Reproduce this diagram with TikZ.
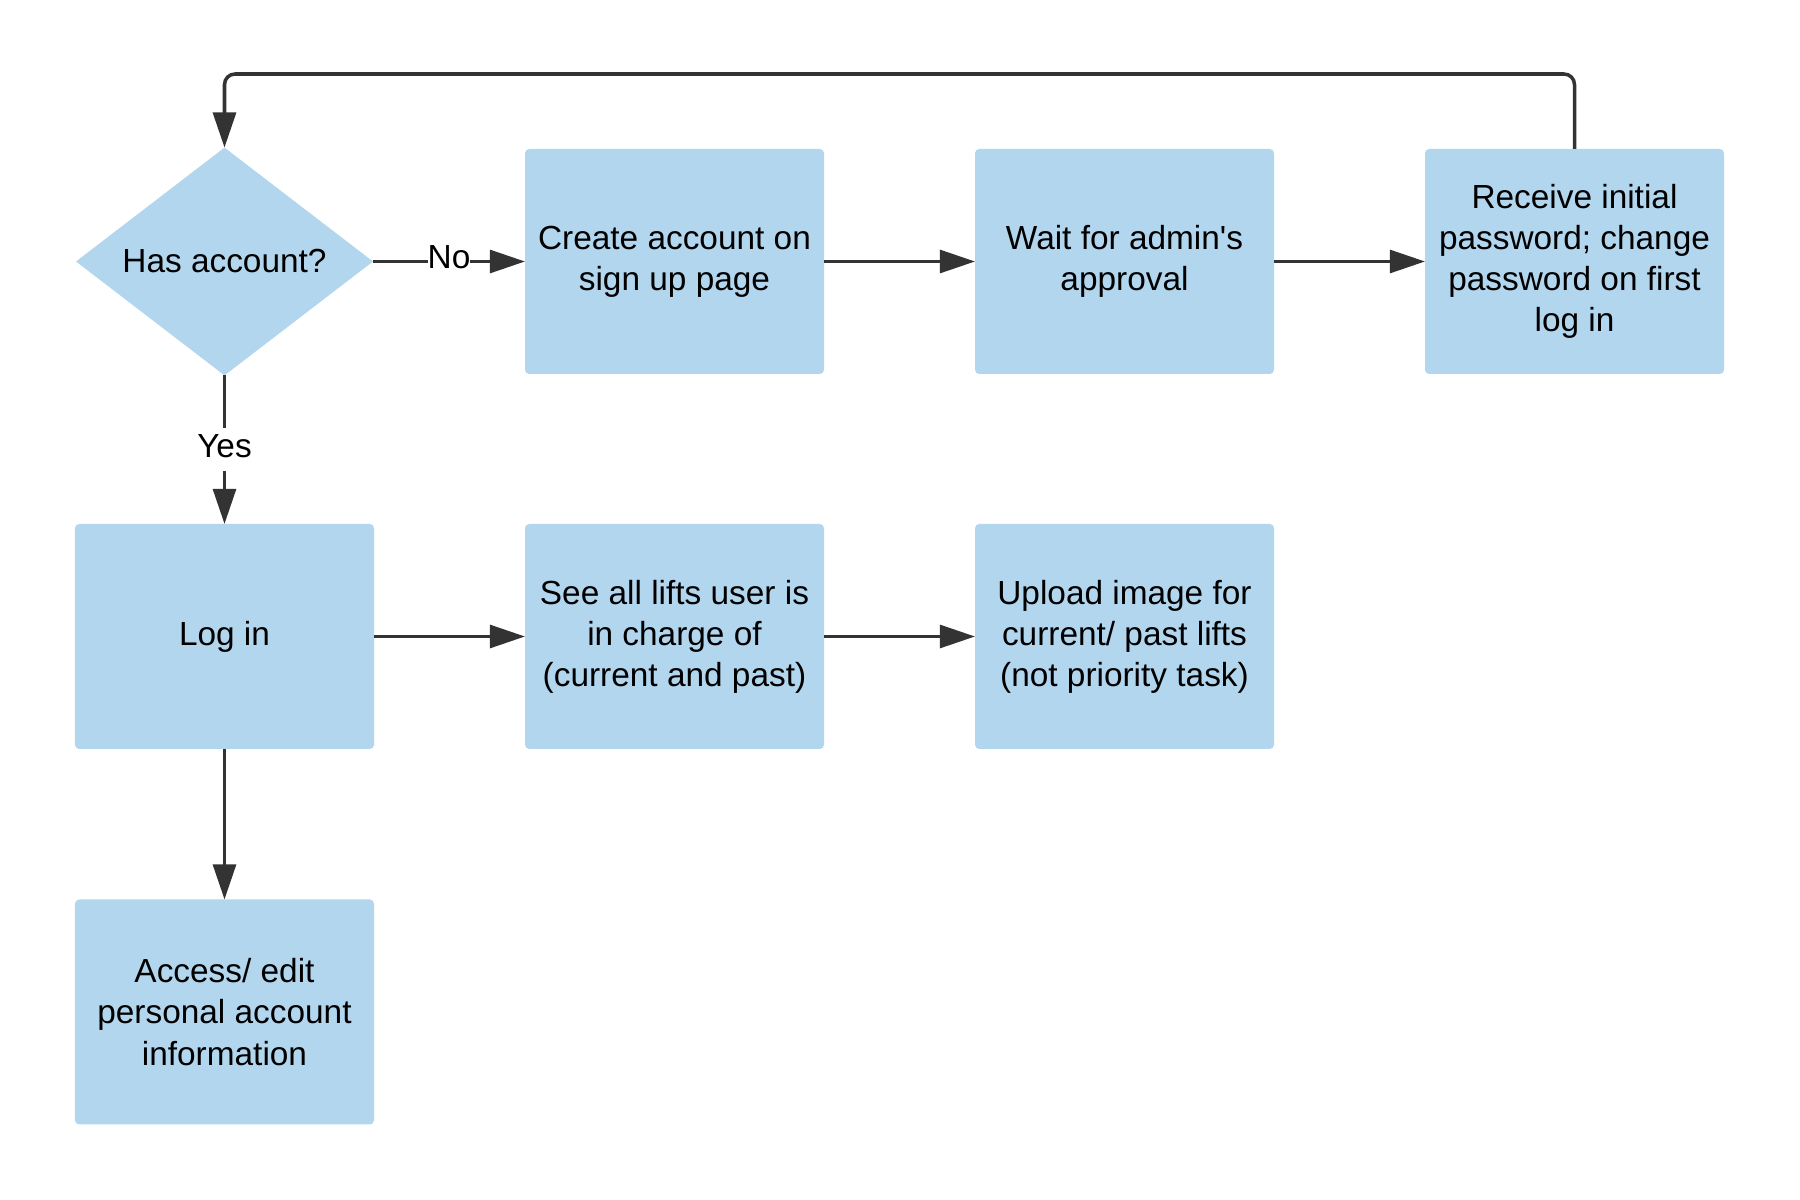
\documentclass[tikz,border=0pt]{standalone}
\usepackage{fontspec}
\setmainfont{Liberation Sans}
\usetikzlibrary{arrows.meta,shapes.geometric}
\definecolor{boxblue}{RGB}{178,214,238}
\definecolor{linegray}{RGB}{51,51,51}

\begin{document}
\begin{tikzpicture}[>={Triangle[length=10pt,width=6.5pt]},
    every node/.style={font=\fontsize{9.5}{11.7}\selectfont},
    stepbox/.style={fill=boxblue, rounded corners=1.2pt, minimum width=2.99cm, minimum height=2.25cm, align=center, inner sep=0pt, outer sep=0pt},
    decision/.style={diamond, fill=boxblue, minimum width=2.97cm, minimum height=2.23cm, inner sep=0pt, outer sep=0pt},
    flow/.style={->, draw=linegray, line width=1pt},
    tag/.style={fill=white, inner xsep=0pt, inner ysep=1pt, text height=0.716em, text depth=0.3em}]
    \useasboundingbox (0,0) rectangle (18,12);
    % Decision
    \node[decision] (has) at (2.245,9.385) {Has account?};
    % Sign up row
    \node[stepbox] (create) at (6.745,9.385) {Create account on\\sign up page};
    \node[stepbox] (wait) at (11.245,9.385) {Wait for admin\textquotesingle s\\approval};
    \node[stepbox] (receive) at (15.745,9.385) {Receive initial\\password; change\\password on first\\log in};
    % Log in row
    \node[stepbox] (login) at (2.245,5.635) {Log in};
    \node[stepbox] (lifts) at (6.745,5.635) {See all lifts user is\\in charge of\\(current and past)};
    \node[stepbox] (upload) at (11.245,5.635) {Upload image for\\current/ past lifts\\(not priority task)};
    \node[stepbox] (access) at (2.245,1.88) {Access/ edit\\personal account\\information};
    % Arrows
    \draw[flow] (has) -- node[tag]{No} (create);
    \draw[flow] (create) -- (wait);
    \draw[flow] (wait) -- (receive);
    \draw[flow] (has) -- node[tag]{Yes} (login);
    \draw[flow] (login) -- (lifts);
    \draw[flow] (lifts) -- (upload);
    \draw[flow] (login) -- (access);
    % Back to the decision
    \coordinate (loop) at (9,11.26);
    \draw[flow, rounded corners=3pt] (receive.north) -- (receive.north |- loop) -| (has.north);
\end{tikzpicture}
\end{document}
